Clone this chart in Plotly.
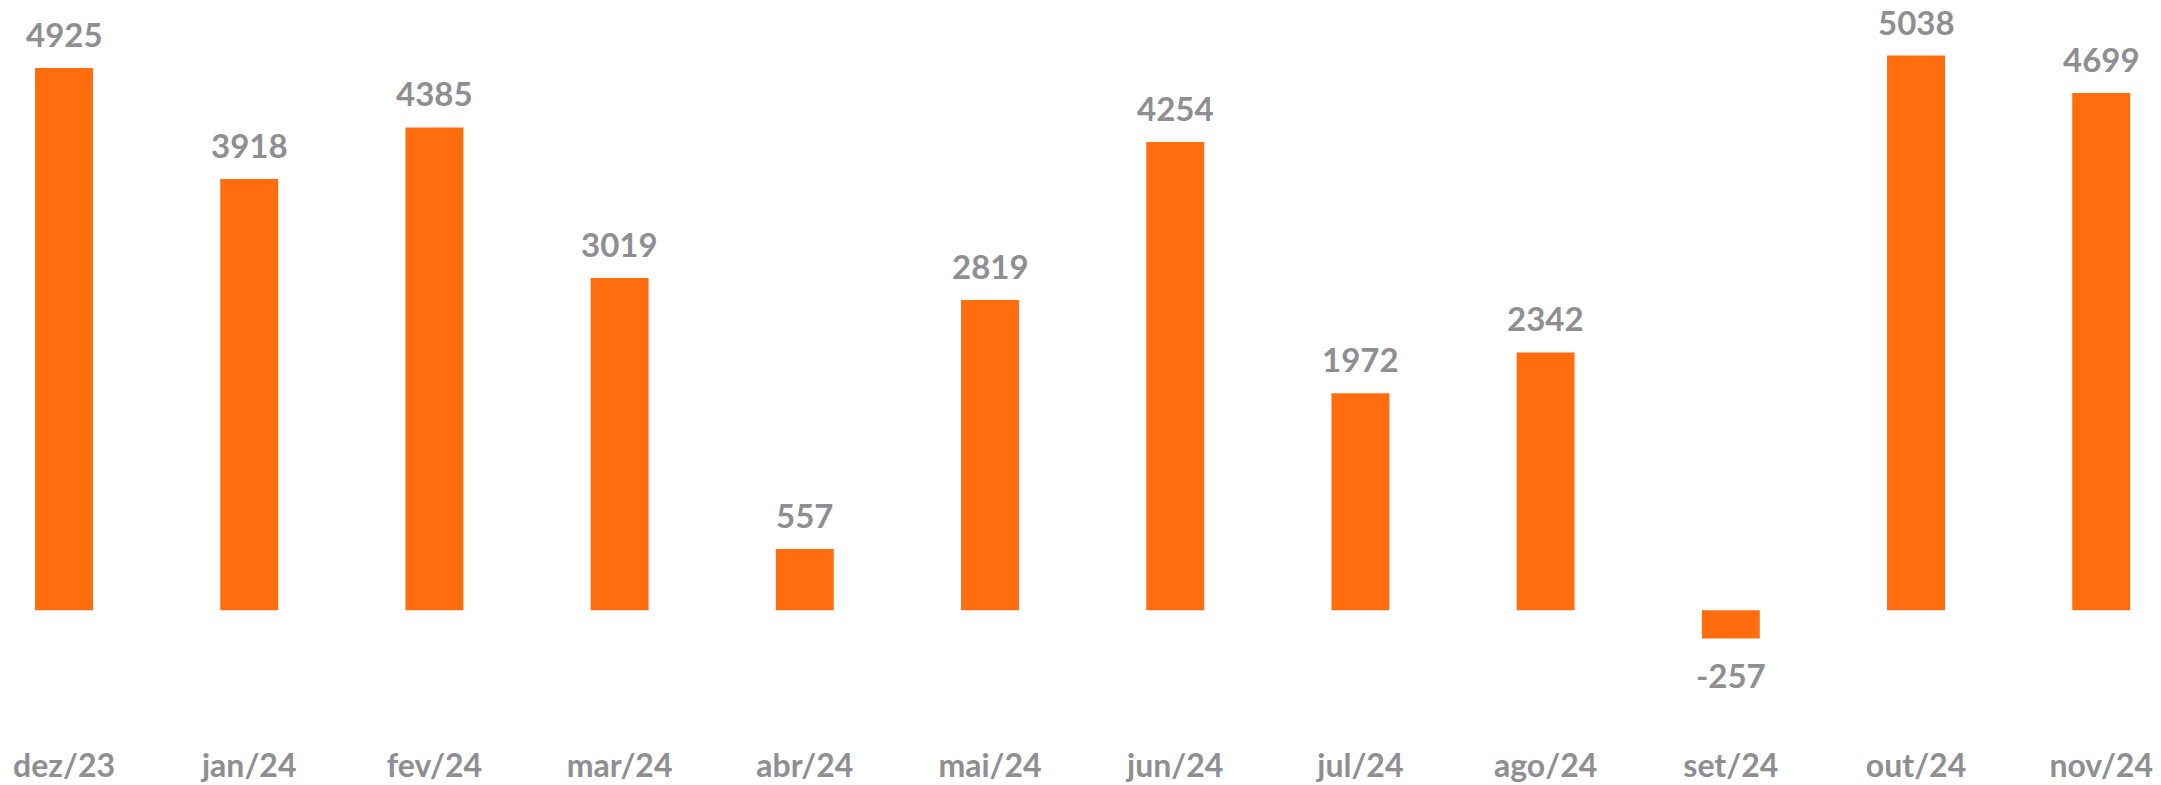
import plotly.graph_objects as go

categories = ["dez/23", "jan/24", "fev/24", "mar/24", "abr/24", "mai/24",
              "jun/24", "jul/24", "ago/24", "set/24", "out/24", "nov/24"]
values = [4925, 3918, 4385, 3019, 557, 2819, 4254, 1972, 2342, -257, 5038, 4699]

BAR = "#FF6D0E"
TXT = "#8E8E93"
FONT = "Lato"

fig = go.Figure(go.Bar(x=categories, y=values, marker=dict(color=BAR, line=dict(width=0)),
                       width=0.313))

for c, v in zip(categories, values):
    if v >= 0:
        fig.add_annotation(x=c, y=v, text=str(v), showarrow=False, yanchor="bottom", yshift=12,
                           font=dict(family=FONT, size=33, color=TXT, weight="bold"))
    else:
        fig.add_annotation(x=c, y=v, text=str(v), showarrow=False, yanchor="top", yshift=-14,
                           font=dict(family=FONT, size=33, color=TXT, weight="bold"))

fig.update_layout(
    width=2161, height=785,
    margin=dict(l=0, r=0, t=0, b=49),
    plot_bgcolor="white", paper_bgcolor="white",
    showlegend=False,
    xaxis=dict(range=[-0.3024, 11.366], showgrid=False, zeroline=False, showline=False,
               ticks="", tickfont=dict(family=FONT, size=32, color=TXT, weight="bold")),
    yaxis=dict(range=[-1214, 5470], showgrid=False, zeroline=False, showline=False,
               showticklabels=False, ticks=""),
)

fig.write_html("out.html")
